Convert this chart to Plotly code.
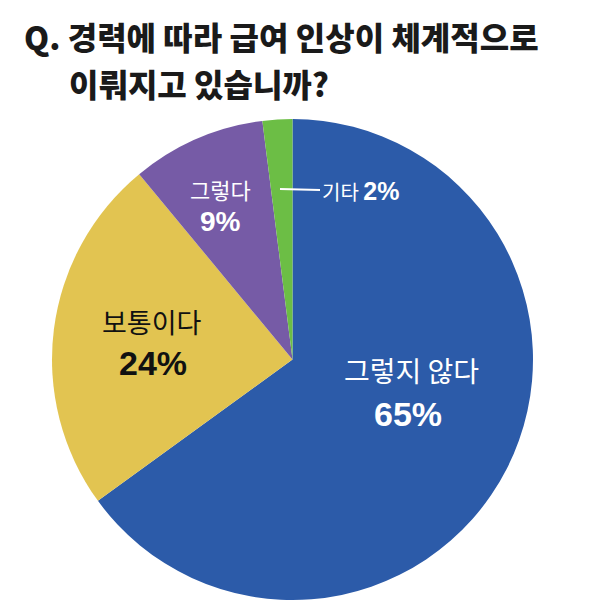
import plotly.graph_objects as go

# survey result: 경력에 따라 급여 인상이 체계적으로 이뤄지고 있습니까?
labels = ['그렇지 않다', '보통이다', '그렇다', '기타']
values = [65, 24, 9, 2]
colors = ['#2C5BA9', '#E2C451', '#765BA6', '#6CBE45']
text_colors = ['white', '#111111', 'white', 'white']

title_line1 = 'Q. 경력에 따라 급여 인상이 체계적으로'
title_line2 = '이뤄지고 있습니까?'

W, H = 600, 607
PAGE_OFF = 8  # page body margin shifts the whole figure
KR = 'Noto Sans CJK KR'
NUM = 'Liberation Sans, Arial'


def px(x, y):
    # screen pixel -> paper coords
    return (x - PAGE_OFF) / W, 1 - (y - PAGE_OFF) / H


left, top = px(52, 119)
right, bottom = px(533, 600)

fig = go.Figure(go.Pie(
    labels=labels,
    values=values,
    sort=False,
    direction='clockwise',
    rotation=0,
    marker=dict(colors=colors, line=dict(width=0)),
    textinfo='none',
    hoverinfo='label+percent',
    showlegend=False,
    domain=dict(x=[left, right], y=[bottom, top]),
))

# where the inside labels sit (screen pixels)
label_pos = [(411, 370), (152, 321), (220, 189)]
pct_pos = [(408, 414), (153, 363), (220, 222)]
label_size = [28, 27, 22]
pct_size = [34, 34, 28]

annotations = []
for i in range(3):
    lx, ly = px(*label_pos[i])
    annotations.append(dict(x=lx, y=ly, xref='paper', yref='paper', text=labels[i],
                            xanchor='center', yanchor='middle', showarrow=False,
                            font=dict(family=KR, size=label_size[i], color=text_colors[i])))
    qx, qy = px(*pct_pos[i])
    annotations.append(dict(x=qx, y=qy, xref='paper', yref='paper', text='<b>%d%%</b>' % values[i],
                            xanchor='center', yanchor='middle', showarrow=False,
                            font=dict(family=NUM, size=pct_size[i], color=text_colors[i])))

# small slice gets a leader line
tx, ty = px(280, 189)
annotations.append(dict(
    x=tx, y=ty, xref='paper', yref='paper',
    text='%s <span style="font-family:Liberation Sans;font-size:25px"><b>%d%%</b></span>' % (labels[3], values[3]),
    showarrow=True, arrowhead=0, arrowwidth=2, arrowcolor='white',
    ax=80, ay=2, standoff=0, borderpad=1,
    font=dict(family=KR, size=20, color='white'),
))

# two-line title
t1x, t1y = px(22, 36)
t2x, t2y = px(67, 83)
annotations.append(dict(x=t1x, y=t1y, xref='paper', yref='paper', xanchor='left', yanchor='middle',
                        text=title_line1, showarrow=False,
                        font=dict(family=KR, size=32, color='#1A1A1A', weight=900)))
annotations.append(dict(x=t2x, y=t2y, xref='paper', yref='paper', xanchor='left', yanchor='middle',
                        text=title_line2, showarrow=False,
                        font=dict(family=KR, size=32, color='#1A1A1A', weight=900)))

fig.update_layout(
    width=W,
    height=H,
    margin=dict(l=0, r=0, t=0, b=0),
    paper_bgcolor='white',
    plot_bgcolor='white',
    annotations=annotations,
)

fig.write_html('out.html')
